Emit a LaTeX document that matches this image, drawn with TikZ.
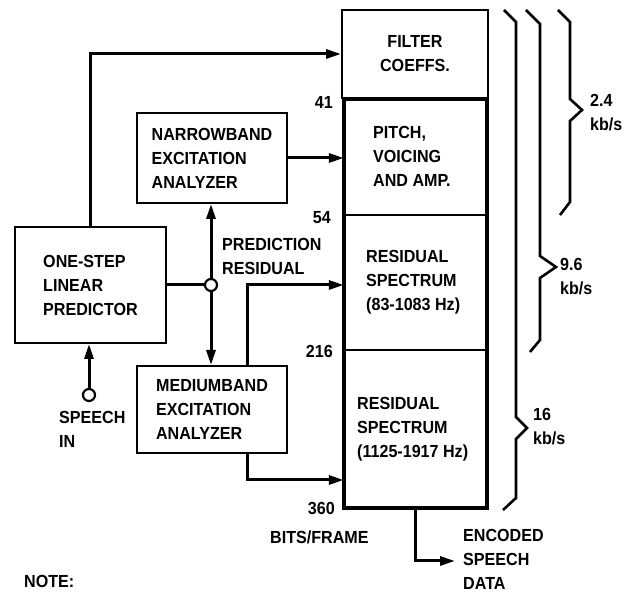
\documentclass[tikz,border=0pt]{standalone}
\usepackage{fontspec}
\setmainfont{Liberation Sans}[FakeStretch=0.92]
\usetikzlibrary{arrows.meta}
\tikzset{
  lbl/.style={font=\bfseries\fontsize{17.5}{24}\selectfont, inner sep=0pt, align=left},
  box/.style={draw, line width=2pt, inner sep=0pt, lbl},
  sect/.style={inner sep=0pt, lbl},
  conn/.style={line width=3pt},
  arr/.style={conn, -{Triangle[length=15pt,width=9pt]}},
  brc/.style={line width=2.6pt, line join=miter},
  pin/.style={circle, draw, line width=2.2pt, fill=white, minimum size=12pt, inner sep=0pt}
}
\begin{document}
\begin{tikzpicture}[x=1pt,y=-1pt]
\useasboundingbox (0,0) rectangle (633,593);
% boxes
\node[box, minimum width=151pt, minimum height=116pt] (pred) at (90.5,285) {ONE-STEP\\LINEAR\\PREDICTOR};
\node[box, minimum width=150pt, minimum height=90pt] (narrow) at (212,158) {NARROWBAND\\EXCITATION\\ANALYZER};
\node[box, minimum width=150pt, minimum height=87pt] (medium) at (212,409.5) {MEDIUMBAND\\EXCITATION\\ANALYZER};
% column
\node[box, minimum width=146pt, minimum height=88pt, align=center] (filt) at (415,54) {FILTER\\COEFFS.};
\node[sect, minimum width=143pt, minimum height=116pt] (pitch) at (415.5,157) {};
\node[sect, minimum width=143pt, minimum height=135pt] (res1) at (415.5,282.5) {};
\node[sect, minimum width=143pt, minimum height=158pt] (res2) at (415.5,429) {};
\node[lbl, anchor=west] (pitcht) at (373,156) {PITCH,\\VOICING\\AND AMP.};
\node[lbl, anchor=west] (res1t) at (366,282) {RESIDUAL\\SPECTRUM\\(83-1083 Hz)};
\node[lbl, anchor=west] (res2t) at (357,429) {RESIDUAL\\SPECTRUM\\(1125-1917 Hz)};
\draw[line width=1.8pt] (res1.north west) -- (res1.north east);
\draw[line width=1.8pt] (res2.north west) -- (res2.north east);
\draw[line width=4.5pt] (pitch.north west) rectangle (res2.south east);
% bit labels
\node[lbl, anchor=east] (b41) at (333,102) {41};
\node[lbl, anchor=east] (b54) at (331,218) {54};
\node[lbl, anchor=east] (b216) at (333,351) {216};
\node[lbl, anchor=east] (b360) at (335,508) {360};
\node[lbl, anchor=west] (bits) at (270,537) {BITS/FRAME};
% junction and inputs
\node[pin] (j) at (211,285) {};
\node[pin] (sin) at (89,395) {};
\node[lbl, anchor=west] (speechin) at (59,429) {SPEECH\\IN};
\node[lbl, anchor=west] (predres) at (222,256.5) {PREDICTION\\RESIDUAL};
\node[lbl, anchor=west] (note) at (24,581) {NOTE:};
\node[lbl, anchor=west] (enc) at (463,559) {ENCODED\\SPEECH\\DATA};
% connectors
\draw[arr] (pred.north) |- (filt.west);
\draw[arr] (narrow.east) -- (narrow.east -| pitch.west);
\draw[conn] (pred.east |- j) -- (j.west);
\draw[arr] (j.north) -- (j.north |- narrow.south);
\draw[arr] (j.south) -- (j.south |- medium.north);
\coordinate (ra) at (247,285);
\coordinate (rb) at (247,480);
\draw[arr] (ra |- medium.north) -- (ra) -- (ra -| res1.west);
\draw[arr] (rb |- medium.south) -- (rb) -- (rb -| res2.west);
\draw[arr] (sin.north) -- (sin.north |- pred.south);
\coordinate (out) at (415,561);
\draw[arr] (out |- res2.south) -- (out) -- ([xshift=-8pt]out -| enc.west);
% braces
\draw[brc] (504,10) -- (516,22) -- (516,417) -- (527,428) -- (516,439) -- (516,498) -- (503,510);
\draw[brc] (526,10) -- (540,24) -- (540,256) -- (556,267) -- (540,278) -- (540,340) -- (530,352);
\draw[brc] (558,10) -- (570,22) -- (570,99) -- (582,110) -- (570,121) -- (570,202) -- (560,215);
\node[lbl, anchor=west] (r24) at (590,113) {2.4\\kb/s};
\node[lbl, anchor=west] (r96) at (560,277) {9.6\\kb/s};
\node[lbl, anchor=west] (r16) at (533,427) {16\\kb/s};
\end{tikzpicture}
\end{document}
